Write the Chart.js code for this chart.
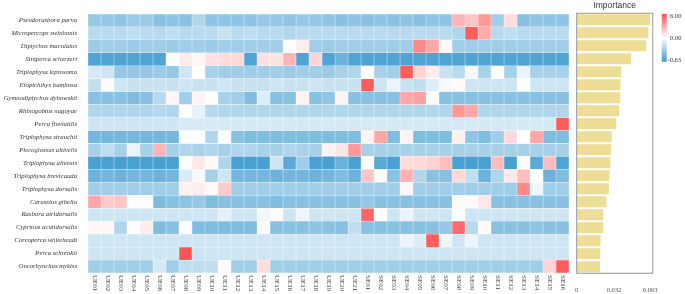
<!DOCTYPE html>
<html>
<head>
<meta charset="utf-8">
<script src="https://cdn.jsdelivr.net/npm/chart.js@4.4.0/dist/chart.umd.min.js"></script>
<style>
  body { margin: 0; background: #fff; }
  #wrap { position: relative; width: 685px; height: 294px; }
  canvas { position: absolute; top: 0; }
</style>
</head>
<body>
<div id="wrap">
  <canvas id="heat" width="570" height="294" style="left:0"></canvas>
  <canvas id="imp" width="115" height="294" style="left:570px"></canvas>
</div>
<script>
var species = [
  'Pseudorasbora parva', 'Micropercops swinhonis', 'Diptychus maculatus', 'Siniperca scherzeri',
  'Triplophysa leptosoma', 'Elopichthys bambusa', 'Gymnodiptychus dybowskii', 'Rhinogobius nagoyae',
  'Perca fluviatilis', 'Triplophysa strauchii', 'Plecoglossus altivelis', 'Triplophysa aliensis',
  'Triplophysa brevicauda', 'Triplophysa dorsalis', 'Carassius gibelio', 'Rasbora atridorsalis',
  'Cyprinus acutidorsalis', 'Coreoperca whiteheadi', 'Perca schrenkii', 'Oncorhynchus mykiss'
];

var sites = [
  'UE01','UE02','UE03','UE04','UE05','UE06','UE07','UE08','UE09','UE10','UE11','UE12','UE13','UE14',
  'UE15','UE16','UE17','UE18','UE19','UE20','UE21',
  'SE01','SE02','SE03','SE04','SE05','SE06','SE07','SE08','SE09','SE10','SE11','SE12','SE13','SE14','SE15','SE16'
];

// one row per species, one value per site
var values = [
  [-0.38,-0.38,-0.4,-0.36,-0.36,-0.42,-0.4,-0.42,-0.3,-0.4,-0.4,-0.4,-0.4,-0.38,-0.38,-0.4,-0.38,-0.38,-0.4,-0.42,-0.4,-0.42,-0.4,-0.42,-0.4,-0.42,-0.4,-0.4,2.5,2.0,3.5,-0.35,1.2,-0.42,-0.4,-0.4,-0.4],
  [-0.27,-0.27,-0.27,-0.25,-0.27,-0.27,-0.25,-0.27,-0.27,-0.27,-0.22,-0.27,-0.25,-0.27,-0.27,-0.3,-0.27,-0.27,-0.27,-0.27,-0.27,-0.27,-0.27,-0.27,-0.27,-0.27,-0.27,-0.27,-0.3,5.5,2.8,-0.27,-0.25,-0.27,-0.27,-0.27,-0.27],
  [-0.36,-0.35,-0.35,-0.36,-0.35,-0.35,-0.36,-0.35,-0.35,-0.36,-0.35,-0.35,-0.35,-0.35,-0.35,0.03,0.6,-0.35,-0.36,-0.35,-0.35,-0.35,-0.35,-0.35,-0.35,4.0,3.0,0.25,-0.35,-0.35,-0.35,-0.35,-0.35,-0.35,-0.35,-0.35,-0.35],
  [-0.58,-0.58,-0.58,-0.58,-0.58,-0.58,0.0,0.7,0.3,1.1,1.2,1.3,-0.58,1.1,1.0,2.5,-0.58,1.5,-0.58,-0.5,-0.58,-0.58,-0.58,-0.58,-0.58,-0.58,-0.58,-0.58,-0.58,-0.58,-0.58,-0.58,-0.58,-0.58,-0.58,-0.58,-0.58],
  [-0.18,-0.2,-0.38,-0.38,-0.38,-0.36,-0.38,-0.2,0.0,-0.33,-0.35,-0.35,-0.35,-0.35,-0.35,-0.36,-0.35,-0.35,-0.36,-0.33,-0.3,0.08,-0.33,-0.35,5.5,1.5,0.6,-0.22,-0.27,-0.06,-0.33,0.02,-0.33,-0.1,-0.33,-0.33,-0.33],
  [-0.24,-0.03,-0.2,-0.22,-0.22,-0.22,-0.22,-0.2,-0.22,-0.22,-0.2,-0.22,-0.22,-0.22,-0.2,-0.22,-0.22,-0.2,-0.22,-0.22,-0.22,5.5,-0.2,-0.1,-0.22,-0.25,-0.15,-0.05,0.15,-0.2,-0.2,-0.2,-0.2,0.02,-0.2,-0.2,-0.2],
  [-0.42,-0.42,-0.42,-0.44,-0.42,-0.28,0.3,-0.35,0.4,0.0,-0.33,-0.35,-0.44,-0.15,-0.42,-0.42,0.4,-0.42,-0.4,0.4,-0.42,-0.42,-0.42,-0.42,3.0,3.2,0.02,-0.42,-0.42,-0.42,-0.42,-0.42,-0.42,-0.42,-0.42,-0.42,-0.42],
  [-0.3,-0.3,-0.3,-0.3,-0.3,-0.28,-0.3,0.0,-0.12,-0.28,-0.3,-0.3,-0.3,-0.3,-0.3,-0.3,-0.3,-0.3,-0.3,-0.3,-0.3,-0.3,-0.3,-0.3,-0.3,-0.3,-0.3,-0.3,3.5,3.0,-0.3,-0.3,-0.3,-0.3,-0.3,-0.3,-0.3],
  [-0.2,-0.2,-0.2,-0.2,-0.2,-0.2,-0.2,-0.17,-0.17,-0.17,-0.18,-0.18,-0.18,-0.18,-0.18,-0.18,-0.18,-0.18,-0.18,-0.18,-0.18,-0.18,-0.18,-0.18,-0.18,-0.18,-0.18,-0.18,-0.18,-0.18,-0.18,-0.18,-0.18,-0.18,-0.18,-0.18,5.5],
  [-0.48,-0.48,-0.48,-0.48,-0.48,-0.48,-0.48,-0.02,0.05,-0.3,0.0,-0.42,-0.45,-0.45,-0.45,-0.45,-0.45,-0.45,-0.45,-0.45,-0.45,0.4,3.0,-0.45,0.4,-0.45,-0.45,-0.45,0.5,-0.4,-0.45,-0.35,1.3,0.05,3.0,-0.45,-0.45],
  [-0.33,-0.25,-0.33,-0.1,-0.33,2.5,-0.33,-0.3,-0.32,-0.3,-0.33,-0.3,-0.3,-0.32,-0.33,-0.3,-0.32,-0.33,0.4,0.9,3.5,-0.33,-0.33,-0.33,-0.33,-0.33,-0.33,-0.33,-0.33,-0.33,-0.33,-0.33,-0.33,-0.33,-0.33,-0.33,-0.33],
  [-0.6,-0.6,-0.6,-0.6,-0.6,-0.6,-0.6,0.05,0.8,0.2,-0.3,-0.6,-0.6,-0.6,-0.2,-0.55,-0.35,-0.6,-0.6,-0.5,-0.6,0.1,-0.55,-0.6,1.2,1.3,1.5,2.2,-0.6,-0.6,-0.6,2.2,-0.6,0.1,-0.55,2.3,-0.58],
  [-0.5,-0.48,-0.5,-0.48,-0.48,-0.5,-0.48,-0.15,-0.05,-0.33,-0.2,-0.48,-0.48,-0.48,-0.5,-0.48,-0.48,-0.5,-0.48,-0.45,-0.5,2.0,-0.03,-0.42,2.6,-0.3,-0.42,-0.42,1.3,-0.25,-0.5,-0.3,0.8,2.2,0.0,-0.5,-0.45],
  [-0.35,-0.35,-0.35,-0.35,-0.35,-0.35,-0.35,0.5,0.6,0.2,1.8,-0.35,-0.35,-0.35,-0.35,-0.35,-0.35,-0.35,-0.35,-0.35,-0.35,-0.35,-0.35,-0.35,0.3,-0.35,-0.35,-0.35,-0.35,-0.35,-0.35,-0.35,-0.35,4.0,-0.08,-0.35,-0.35],
  [3.0,1.8,2.0,0.05,0.05,-0.45,-0.42,-0.4,-0.38,-0.45,-0.42,-0.42,-0.42,-0.42,-0.45,-0.42,-0.42,-0.42,-0.42,-0.42,-0.42,-0.38,-0.42,-0.42,-0.42,-0.42,-0.42,-0.42,-0.03,0.2,0.8,-0.42,-0.42,-0.42,-0.42,-0.42,-0.42],
  [-0.2,-0.2,-0.2,-0.2,-0.2,-0.2,-0.2,-0.2,-0.2,-0.2,-0.12,-0.2,-0.2,-0.08,-0.03,-0.2,-0.08,-0.2,-0.2,-0.2,-0.2,5.2,0.0,-0.2,-0.1,-0.2,-0.2,-0.2,0.0,-0.2,-0.2,-0.2,-0.2,-0.2,-0.2,-0.2,-0.2],
  [0.3,0.3,-0.3,0.1,0.6,-0.45,-0.42,0.2,-0.45,-0.45,-0.45,-0.45,-0.45,0.2,-0.42,-0.42,-0.42,-0.4,-0.42,-0.42,-0.25,-0.42,-0.42,-0.42,-0.42,-0.42,-0.42,-0.38,5.0,-0.28,0.2,-0.42,-0.42,-0.42,-0.4,-0.42,-0.42],
  [-0.2,-0.2,-0.2,-0.2,-0.2,-0.2,-0.2,-0.2,-0.2,-0.2,-0.2,-0.2,-0.2,-0.2,-0.2,-0.2,-0.2,-0.2,-0.2,-0.2,-0.2,-0.2,-0.2,-0.2,-0.1,-0.15,5.5,-0.08,-0.2,-0.1,-0.2,-0.2,-0.2,-0.2,-0.2,-0.2,-0.2],
  [-0.2,-0.2,-0.2,-0.2,-0.2,-0.2,-0.2,5.8,-0.2,-0.2,-0.2,-0.2,-0.2,-0.2,-0.2,-0.2,-0.2,-0.2,-0.2,-0.2,-0.2,-0.2,-0.2,-0.2,-0.2,-0.2,-0.2,-0.2,-0.2,-0.2,-0.2,-0.2,-0.2,-0.2,-0.2,-0.2,-0.2],
  [-0.35,-0.35,-0.35,-0.35,-0.35,-0.18,-0.35,-0.25,-0.25,-0.25,0.2,-0.35,-0.35,1.2,-0.35,-0.35,-0.35,-0.35,-0.35,-0.35,-0.35,-0.35,-0.35,-0.35,-0.35,-0.35,-0.35,-0.35,-0.35,-0.35,-0.35,-0.35,-0.35,-0.35,-0.35,1.5,5.5]
];

var importance = [0.063, 0.0616, 0.0597, 0.0466, 0.0383, 0.0375, 0.0375, 0.0364, 0.034, 0.0301,
                  0.0296, 0.029, 0.0282, 0.0277, 0.0255, 0.023, 0.023, 0.0205, 0.0203, 0.020];
var impTicks = [0, 0.032, 0.063];
var colorTicks = [6.00, 0.00, -0.63];

var colorMin = -0.63, colorMax = 6.00;
var blue = [62, 154, 208], red = [255, 78, 78];

function cellColor(v) {
  var c, t;
  if (v < 0) { c = blue; t = Math.pow(Math.min(1, v / colorMin), 1.2); }
  else { c = red; t = Math.min(1, v / colorMax); }
  var r = Math.round(255 - t * (255 - c[0]));
  var g = Math.round(255 - t * (255 - c[1]));
  var b = Math.round(255 - t * (255 - c[2]));
  return 'rgb(' + r + ',' + g + ',' + b + ')';
}

// each site is one stacked dataset, so every cell is one unit wide
var heatSets = sites.map(function (s, j) {
  return {
    label: s,
    data: species.map(function () { return 1; }),
    backgroundColor: species.map(function (sp, i) { return cellColor(values[i][j]); }),
    borderColor: 'rgba(255,255,255,0.55)',
    borderWidth: 0.5,
    borderSkipped: false,
    barPercentage: 1,
    categoryPercentage: 1
  };
});

var siteLabels = {
  id: 'siteLabels',
  afterDraw: function (chart) {
    var ctx = chart.ctx, xs = chart.scales.x, top = chart.chartArea.bottom + 2;
    ctx.save();
    ctx.font = '7px "Liberation Serif"';
    ctx.fillStyle = '#444';
    ctx.textBaseline = 'middle';
    ctx.textAlign = 'left';
    sites.forEach(function (s, j) {
      ctx.save();
      ctx.translate(xs.getPixelForValue(j + 0.5), top);
      ctx.rotate(Math.PI / 2);
      ctx.fillText(s, 0, 0);
      ctx.restore();
    });
    ctx.restore();
  }
};

new Chart(document.getElementById('heat'), {
  type: 'bar',
  data: { labels: species, datasets: heatSets },
  options: {
    indexAxis: 'y',
    responsive: false,
    animation: false,
    layout: { padding: { top: 14, right: 1, left: 0, bottom: 0 } },
    plugins: { legend: { display: false }, tooltip: { enabled: false } },
    scales: {
      x: {
        type: 'linear', stacked: true, min: 0, max: sites.length,
        ticks: { display: false },
        grid: { display: false },
        border: { display: false },
        afterFit: function (s) { s.height = 21; }
      },
      y: {
        stacked: true,
        ticks: {
          autoSkip: false, padding: 3, color: '#333',
          font: { family: 'Liberation Serif', style: 'italic', size: 6.7 }
        },
        grid: { display: false },
        border: { display: false },
        afterFit: function (s) { s.width = 88; }
      }
    }
  },
  plugins: [siteLabels]
});

var impDecor = {
  id: 'impDecor',
  afterDraw: function (chart) {
    var ctx = chart.ctx, a = chart.chartArea;
    ctx.save();
    ctx.strokeStyle = '#a8a8a8';
    ctx.lineWidth = 1.2;
    ctx.strokeRect(a.left, a.top, a.right - a.left, a.bottom - a.top);

    ctx.fillStyle = '#333';
    ctx.font = '8.5px "Liberation Sans"';
    ctx.textAlign = 'center';
    ctx.textBaseline = 'middle';
    ctx.fillText('Importance', (a.left + a.right) / 2, 5.5);

    // colour bar
    var x0 = 91.7, w = 5, y0 = 14, y1 = 61.7;
    var g = ctx.createLinearGradient(0, y0, 0, y1);
    g.addColorStop(0, cellColor(colorMax));
    g.addColorStop(0.5, '#ffffff');
    g.addColorStop(1, cellColor(colorMin));
    ctx.fillStyle = g;
    ctx.fillRect(x0, y0, w, y1 - y0);

    ctx.fillStyle = '#333';
    ctx.font = '6.5px "Liberation Serif"';
    ctx.textAlign = 'left';
    var ys = [16, 38.3, 60];
    colorTicks.forEach(function (t, k) {
      ctx.fillText(t.toFixed(2), t < 0 ? 97.5 : 100, ys[k]);
    });
    ctx.restore();
  }
};

new Chart(document.getElementById('imp'), {
  type: 'bar',
  data: {
    labels: species,
    datasets: [{
      data: importance,
      backgroundColor: 'rgb(238,221,150)',
      barPercentage: 0.84,
      categoryPercentage: 1
    }]
  },
  options: {
    indexAxis: 'y',
    responsive: false,
    animation: false,
    layout: { padding: { top: 13.3, right: 32.3, left: 3.3, bottom: 0 } },
    plugins: { legend: { display: false }, tooltip: { enabled: false } },
    scales: {
      x: {
        min: 0, max: 0.0652,
        afterBuildTicks: function (s) { s.ticks = impTicks.map(function (v) { return { value: v }; }); },
        ticks: {
          autoSkip: false, maxRotation: 0, padding: 5, color: '#555',
          font: { family: 'Liberation Serif', size: 6.5 },
          callback: function (v) { return v === 0 ? '0' : v.toFixed(3); }
        },
        grid: { display: false },
        border: { display: false },
        afterFit: function (s) { s.height = 20.7; }
      },
      y: { display: false }
    }
  },
  plugins: [impDecor]
});
</script>
</body>
</html>
